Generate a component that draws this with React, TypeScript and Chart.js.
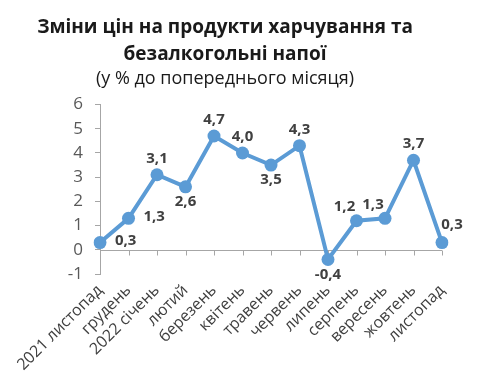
import React, { useEffect, useRef } from "react";
import { Chart, registerables } from "chart.js";

Chart.register(...registerables);

const categories = [
  "2021 листопад",
  "грудень",
  "2022 січень",
  "лютий",
  "березень",
  "квітень",
  "травень",
  "червень",
  "липень",
  "серпень",
  "вересень",
  "жовтень",
  "листопад",
];
const values = [0.3, 1.3, 3.1, 2.6, 4.7, 4.0, 3.5, 4.3, -0.4, 1.2, 1.3, 3.7, 0.3];
const labelPlacement = [
  "right", "right", "above", "below", "above", "above", "below",
  "above", "below", "aboveLeft", "aboveLeft", "above", "aboveRight",
];
const yMin = -1;
const yMax = 6;

const LINE = "#5B9BD5";
const AXIS = "#A6A6A6";
const FONT = "'Open Sans', sans-serif";

const fmt = (v: number) => v.toFixed(1).replace(".", ",");

const zeroAxisPlugin = {
  id: "zeroAxis",
  beforeDatasetsDraw(chart: any) {
    const { ctx, scales } = chart;
    const x = scales.x;
    const y = scales.y;
    const py = Math.round(y.getPixelForValue(0)) + 0.5;
    ctx.save();
    ctx.strokeStyle = AXIS;
    ctx.lineWidth = 1;
    ctx.beginPath();
    ctx.moveTo(x.left, py);
    ctx.lineTo(x.right, py);
    x.ticks.forEach((_: any, i: number) => {
      const px = Math.round(x.getPixelForTick(i)) + 0.5;
      ctx.moveTo(px, py);
      ctx.lineTo(px, py + 5);
    });
    ctx.stroke();
    ctx.restore();
  },
};

const dataLabelPlugin = {
  id: "dataLabels",
  afterDatasetsDraw(chart: any) {
    const { ctx } = chart;
    const meta = chart.getDatasetMeta(0);
    ctx.save();
    ctx.font = `bold 15px ${FONT}`;
    ctx.fillStyle = "#404040";
    ctx.textBaseline = "middle";
    meta.data.forEach((pt: any, i: number) => {
      const text = fmt(values[i]);
      const pos = labelPlacement[i];
      let dx = 0;
      let dy = 0;
      ctx.textAlign = "center";
      if (pos === "above") { dx = 0; dy = -16; }
      else if (pos === "below") { dx = 0; dy = 15; }
      else if (pos === "right") { dx = 15; dy = -2; ctx.textAlign = "left"; }
      else if (pos === "aboveLeft") { dx = -12; dy = -14; }
      else if (pos === "aboveRight") { dx = 10; dy = -18; }
      ctx.fillText(text, pt.x + dx, pt.y + dy);
    });
    ctx.restore();
  },
};

export default function App() {
  const ref = useRef<HTMLCanvasElement | null>(null);

  useEffect(() => {
    if (!ref.current) return;
    const chart = new Chart(ref.current, {
      type: "line",
      data: {
        labels: categories,
        datasets: [
          {
            data: values,
            borderColor: LINE,
            backgroundColor: LINE,
            borderWidth: 4,
            pointRadius: 6.5,
            pointHoverRadius: 6.5,
            pointBackgroundColor: LINE,
            pointBorderColor: LINE,
            pointBorderWidth: 0,
            tension: 0,
          },
        ],
      },
      options: {
        animation: false,
        responsive: true,
        maintainAspectRatio: false,
        layout: { padding: { left: 0, right: 30, top: 0, bottom: 0 } },
        plugins: {
          legend: { display: false },
          tooltip: { enabled: false },
          title: {
            display: true,
            text: ["Зміни цін на продукти харчування та", "безалкогольні напої"],
            color: "#1a1a1a",
            font: { family: FONT, size: 19, weight: "bold", lineHeight: 1.42 },
            padding: { top: 6, bottom: 0 },
          },
          subtitle: {
            display: true,
            text: "(у % до попереднього місяця)",
            color: "#1a1a1a",
            font: { family: FONT, size: 18, weight: "normal", lineHeight: 1.2 },
            padding: { top: 0, bottom: 15 },
          },
        },
        scales: {
          x: {
            offset: false,
            grid: { display: false, drawTicks: false },
            border: { display: false },
            ticks: {
              autoSkip: false,
              minRotation: 45,
              maxRotation: 45,
              padding: 7,
              color: "#404040",
              font: { family: FONT, size: 16 },
            },
            afterFit(scale: any) {
              scale.height = 103;
            },
          },
          y: {
            min: yMin,
            max: yMax,
            ticks: {
              stepSize: 1,
              padding: 12,
              color: "#595959",
              font: { family: FONT, size: 17 },
              callback: (v: any) => String(v),
            },
            grid: { drawOnChartArea: false, tickLength: 5, color: AXIS },
            border: { display: true, color: AXIS },
            afterFit(scale: any) {
              scale.width = 92;
            },
          },
        },
      },
      plugins: [zeroAxisPlugin, dataLabelPlugin],
    });
    return () => chart.destroy();
  }, []);

  return (
    <div style={{ position: "relative", width: "100%", height: "369px" }}>
      <canvas ref={ref} />
    </div>
  );
}
